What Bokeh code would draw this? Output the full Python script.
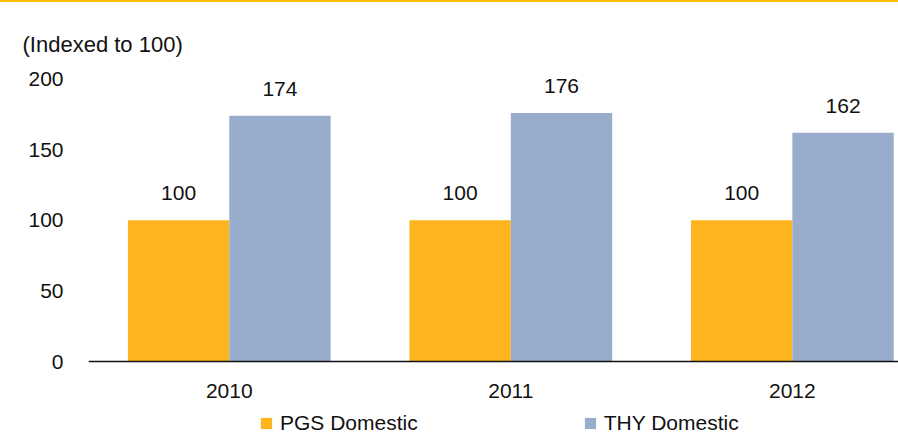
import numpy as np
from bokeh.plotting import figure
from bokeh.models import (ColumnDataSource, Range1d, FixedTicker, Legend,
                          LegendItem, InlineStyleSheet)
from bokeh.core.properties import value
from bokeh.embed import file_html
from bokeh.resources import INLINE

years = ["2010", "2011", "2012"]
pgs = [100, 100, 100]
thy = [174, 176, 162]
series_names = ["PGS Domestic", "THY Domestic"]
y_ticks = [0, 50, 100, 150, 200]
axis_title = "(Indexed to 100)"

ORANGE = "#FDB41E"
BLUE = "#98ACCC"
FONT = "Liberation Sans"

xpos = np.arange(len(years))
bw = 0.36
src_p = ColumnDataSource(dict(x=xpos - bw / 2, top=pgs, lab=[str(v) for v in pgs]))
src_t = ColumnDataSource(dict(x=xpos + bw / 2, top=thy, lab=[str(v) for v in thy]))

# canvas geometry (canvas starts 2px below page top, under the yellow rule)
W, H = 898, 438
frame_top = 58          # canvas px
zero_px = 359           # canvas px of value 0
px_per_unit = 1.4125
y_end = (zero_px - frame_top) / px_per_unit
y_start = -(H - zero_px) / px_per_unit

p = figure(width=W, height=H, output_backend="svg", toolbar_location=None,
           x_range=Range1d(-0.5, 2.377), y_range=Range1d(y_start, y_end),
           min_border_left=88, min_border_right=0, min_border_top=frame_top,
           min_border_bottom=0)
p.stylesheets = [InlineStyleSheet(css=":host { position: absolute !important; top: 0px !important; left: 0px !important; border-top: 2px solid #FFC000; }")]
p.outline_line_color = None
p.xgrid.visible = False
p.ygrid.visible = False
p.background_fill_color = "white"
p.border_fill_color = "white"

p.title.text = axis_title
p.title.align = "left"
p.title.offset = -66
p.title.standoff = 8
p.title.text_font = FONT
p.title.text_font_size = "22px"
p.title.text_font_style = "normal"
p.title.text_color = "#111111"

r1 = p.vbar(x="x", top="top", width=bw, source=src_p, fill_color=ORANGE, line_color=None)
r2 = p.vbar(x="x", top="top", width=bw, source=src_t, fill_color=BLUE, line_color=None)

for src in (src_p, src_t):
    p.text(x="x", y="top", text="lab", source=src, text_align="center",
           text_baseline="alphabetic", y_offset=-27, text_font=value(FONT),
           text_font_size="21px", text_color="#111111")

# y axis
p.yaxis.ticker = FixedTicker(ticks=y_ticks)
p.yaxis.axis_line_color = None
p.yaxis.major_tick_line_color = None
p.yaxis.minor_tick_line_color = None
p.yaxis.major_tick_out = 0
p.yaxis.major_tick_in = 0
p.yaxis.major_label_standoff = 25
p.yaxis.major_label_text_font = FONT
p.yaxis.major_label_text_font_size = "21px"
p.yaxis.major_label_text_color = "#111111"

# x axis, pinned at value 0
p.xaxis.fixed_location = 0
p.xaxis.ticker = FixedTicker(ticks=list(xpos))
p.xaxis.major_label_overrides = {int(i): y for i, y in zip(xpos, years)}
p.xaxis.axis_line_color = "#111111"
p.xaxis.axis_line_width = 1.5
p.xaxis.major_tick_line_color = None
p.xaxis.minor_tick_line_color = None
p.xaxis.major_tick_out = 0
p.xaxis.major_tick_in = 0
p.xaxis.major_label_standoff = 22
p.xaxis.major_label_text_font = FONT
p.xaxis.major_label_text_font_size = "21px"
p.xaxis.major_label_text_color = "#111111"

legend = Legend(items=[LegendItem(label=series_names[0], renderers=[r1]),
                       LegendItem(label=series_names[1], renderers=[r2])],
                orientation="horizontal", location=(171, 5),
                glyph_width=14, glyph_height=14, label_height=14,
                label_standoff=7, spacing=165, padding=0, margin=0,
                border_line_color=None, background_fill_alpha=0,
                label_text_font=FONT, label_text_font_size="21px",
                label_text_color="#111111")
p.add_layout(legend)

open("out.html", "w").write(file_html(p, INLINE))
